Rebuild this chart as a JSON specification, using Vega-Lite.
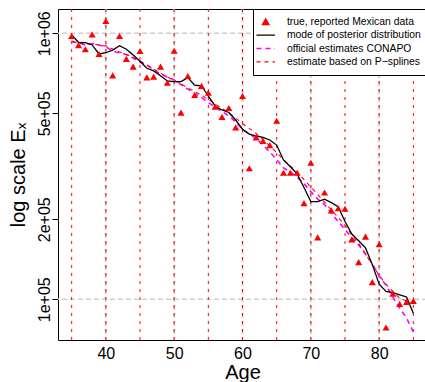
{
  "$schema": "https://vega.github.io/schema/vega-lite/v6.json",
  "width": 369,
  "height": 331,
  "autosize": {"type": "none"},
  "padding": {"left": 58, "top": 9, "right": 0, "bottom": 42},
  "background": "white",
  "config": {
    "view": {"stroke": "black", "strokeWidth": 1},
    "font": "Liberation Sans",
    "axis": {"labelColor": "black", "titleColor": "black", "tickColor": "black", "labelFont": "Liberation Sans", "titleFont": "Liberation Sans", "titleFontWeight": "normal"}
  },
  "datasets": {
    "greyV": [{"age": 40}, {"age": 50}, {"age": 60}, {"age": 70}, {"age": 80}],
    "redV": [{"age": 35}, {"age": 40}, {"age": 45}, {"age": 50}, {"age": 55}, {"age": 60}, {"age": 65}, {"age": 70}, {"age": 75}, {"age": 80}, {"age": 85}],
    "greyH": [{"value": 100000}, {"value": 1000000}],
    "main": [
      {"series": "true, reported Mexican data", "age": 35, "value": 977000},
      {"series": "true, reported Mexican data", "age": 36, "value": 903000},
      {"series": "true, reported Mexican data", "age": 37, "value": 871000},
      {"series": "true, reported Mexican data", "age": 38, "value": 991000},
      {"series": "true, reported Mexican data", "age": 39, "value": 836000},
      {"series": "true, reported Mexican data", "age": 40, "value": 1112000},
      {"series": "true, reported Mexican data", "age": 41, "value": 695000},
      {"series": "true, reported Mexican data", "age": 42, "value": 977000},
      {"series": "true, reported Mexican data", "age": 43, "value": 801000},
      {"series": "true, reported Mexican data", "age": 44, "value": 749000},
      {"series": "true, reported Mexican data", "age": 45, "value": 858000},
      {"series": "true, reported Mexican data", "age": 46, "value": 683000},
      {"series": "true, reported Mexican data", "age": 47, "value": 687000},
      {"series": "true, reported Mexican data", "age": 48, "value": 749000},
      {"series": "true, reported Mexican data", "age": 49, "value": 652000},
      {"series": "true, reported Mexican data", "age": 50, "value": 860000},
      {"series": "true, reported Mexican data", "age": 51, "value": 503000},
      {"series": "true, reported Mexican data", "age": 52, "value": 691000},
      {"series": "true, reported Mexican data", "age": 53, "value": 586000},
      {"series": "true, reported Mexican data", "age": 54, "value": 634000},
      {"series": "true, reported Mexican data", "age": 55, "value": 598000},
      {"series": "true, reported Mexican data", "age": 56, "value": 530000},
      {"series": "true, reported Mexican data", "age": 57, "value": 485000},
      {"series": "true, reported Mexican data", "age": 58, "value": 524000},
      {"series": "true, reported Mexican data", "age": 59, "value": 443000},
      {"series": "true, reported Mexican data", "age": 60, "value": 581000},
      {"series": "true, reported Mexican data", "age": 61, "value": 311000},
      {"series": "true, reported Mexican data", "age": 62, "value": 406000},
      {"series": "true, reported Mexican data", "age": 63, "value": 394000},
      {"series": "true, reported Mexican data", "age": 64, "value": 380000},
      {"series": "true, reported Mexican data", "age": 65, "value": 469000},
      {"series": "true, reported Mexican data", "age": 66, "value": 299000},
      {"series": "true, reported Mexican data", "age": 67, "value": 299000},
      {"series": "true, reported Mexican data", "age": 68, "value": 299000},
      {"series": "true, reported Mexican data", "age": 69, "value": 230000},
      {"series": "true, reported Mexican data", "age": 70, "value": 326000},
      {"series": "true, reported Mexican data", "age": 71, "value": 171000},
      {"series": "true, reported Mexican data", "age": 72, "value": 252000},
      {"series": "true, reported Mexican data", "age": 73, "value": 216000},
      {"series": "true, reported Mexican data", "age": 74, "value": 220000},
      {"series": "true, reported Mexican data", "age": 75, "value": 219000},
      {"series": "true, reported Mexican data", "age": 76, "value": 168000},
      {"series": "true, reported Mexican data", "age": 77, "value": 138000},
      {"series": "true, reported Mexican data", "age": 78, "value": 172000},
      {"series": "true, reported Mexican data", "age": 79, "value": 116000},
      {"series": "true, reported Mexican data", "age": 80, "value": 161000},
      {"series": "true, reported Mexican data", "age": 81, "value": 78300},
      {"series": "true, reported Mexican data", "age": 82, "value": 105000},
      {"series": "true, reported Mexican data", "age": 83, "value": 96000},
      {"series": "true, reported Mexican data", "age": 84, "value": 97700},
      {"series": "true, reported Mexican data", "age": 85, "value": 98500},

      {"series": "mode of posterior distribution", "age": 35, "value": 985000},
      {"series": "mode of posterior distribution", "age": 36, "value": 925000},
      {"series": "mode of posterior distribution", "age": 37, "value": 922000},
      {"series": "mode of posterior distribution", "age": 38, "value": 904000},
      {"series": "mode of posterior distribution", "age": 39, "value": 836000},
      {"series": "mode of posterior distribution", "age": 40, "value": 845000},
      {"series": "mode of posterior distribution", "age": 41, "value": 865000},
      {"series": "mode of posterior distribution", "age": 42, "value": 898000},
      {"series": "mode of posterior distribution", "age": 43, "value": 871000},
      {"series": "mode of posterior distribution", "age": 44, "value": 829000},
      {"series": "mode of posterior distribution", "age": 45, "value": 785000},
      {"series": "mode of posterior distribution", "age": 46, "value": 739000},
      {"series": "mode of posterior distribution", "age": 47, "value": 722000},
      {"series": "mode of posterior distribution", "age": 48, "value": 693000},
      {"series": "mode of posterior distribution", "age": 49, "value": 662000},
      {"series": "mode of posterior distribution", "age": 50, "value": 658000},
      {"series": "mode of posterior distribution", "age": 51, "value": 658000},
      {"series": "mode of posterior distribution", "age": 52, "value": 681000},
      {"series": "mode of posterior distribution", "age": 53, "value": 638000},
      {"series": "mode of posterior distribution", "age": 54, "value": 635000},
      {"series": "mode of posterior distribution", "age": 55, "value": 581000},
      {"series": "mode of posterior distribution", "age": 56, "value": 533000},
      {"series": "mode of posterior distribution", "age": 57, "value": 515000},
      {"series": "mode of posterior distribution", "age": 58, "value": 504000},
      {"series": "mode of posterior distribution", "age": 59, "value": 472000},
      {"series": "mode of posterior distribution", "age": 60, "value": 436000},
      {"series": "mode of posterior distribution", "age": 61, "value": 418000},
      {"series": "mode of posterior distribution", "age": 62, "value": 411000},
      {"series": "mode of posterior distribution", "age": 63, "value": 406000},
      {"series": "mode of posterior distribution", "age": 64, "value": 397000},
      {"series": "mode of posterior distribution", "age": 65, "value": 380000},
      {"series": "mode of posterior distribution", "age": 66, "value": 334000},
      {"series": "mode of posterior distribution", "age": 67, "value": 315000},
      {"series": "mode of posterior distribution", "age": 68, "value": 296000},
      {"series": "mode of posterior distribution", "age": 69, "value": 263000},
      {"series": "mode of posterior distribution", "age": 70, "value": 233000},
      {"series": "mode of posterior distribution", "age": 71, "value": 233000},
      {"series": "mode of posterior distribution", "age": 72, "value": 238000},
      {"series": "mode of posterior distribution", "age": 73, "value": 231000},
      {"series": "mode of posterior distribution", "age": 74, "value": 223000},
      {"series": "mode of posterior distribution", "age": 75, "value": 196000},
      {"series": "mode of posterior distribution", "age": 76, "value": 176000},
      {"series": "mode of posterior distribution", "age": 77, "value": 166000},
      {"series": "mode of posterior distribution", "age": 78, "value": 156000},
      {"series": "mode of posterior distribution", "age": 79, "value": 135000},
      {"series": "mode of posterior distribution", "age": 80, "value": 114000},
      {"series": "mode of posterior distribution", "age": 81, "value": 107000},
      {"series": "mode of posterior distribution", "age": 82, "value": 106000},
      {"series": "mode of posterior distribution", "age": 83, "value": 104000},
      {"series": "mode of posterior distribution", "age": 84, "value": 102000},
      {"series": "mode of posterior distribution", "age": 85, "value": 88600},

      {"series": "official estimates CONAPO", "age": 35, "value": 930000},
      {"series": "official estimates CONAPO", "age": 36, "value": 919000},
      {"series": "official estimates CONAPO", "age": 37, "value": 904000},
      {"series": "official estimates CONAPO", "age": 38, "value": 915000},
      {"series": "official estimates CONAPO", "age": 39, "value": 904000},
      {"series": "official estimates CONAPO", "age": 40, "value": 890000},
      {"series": "official estimates CONAPO", "age": 41, "value": 858000},
      {"series": "official estimates CONAPO", "age": 42, "value": 843000},
      {"series": "official estimates CONAPO", "age": 43, "value": 832000},
      {"series": "official estimates CONAPO", "age": 44, "value": 807000},
      {"series": "official estimates CONAPO", "age": 45, "value": 780000},
      {"series": "official estimates CONAPO", "age": 46, "value": 760000},
      {"series": "official estimates CONAPO", "age": 47, "value": 728000},
      {"series": "official estimates CONAPO", "age": 48, "value": 703000},
      {"series": "official estimates CONAPO", "age": 49, "value": 685000},
      {"series": "official estimates CONAPO", "age": 50, "value": 667000},
      {"series": "official estimates CONAPO", "age": 51, "value": 642000},
      {"series": "official estimates CONAPO", "age": 52, "value": 617000},
      {"series": "official estimates CONAPO", "age": 53, "value": 594000},
      {"series": "official estimates CONAPO", "age": 54, "value": 574000},
      {"series": "official estimates CONAPO", "age": 55, "value": 549000},
      {"series": "official estimates CONAPO", "age": 56, "value": 528000},
      {"series": "official estimates CONAPO", "age": 57, "value": 508000},
      {"series": "official estimates CONAPO", "age": 58, "value": 489000},
      {"series": "official estimates CONAPO", "age": 59, "value": 464000},
      {"series": "official estimates CONAPO", "age": 60, "value": 435000},
      {"series": "official estimates CONAPO", "age": 61, "value": 418000},
      {"series": "official estimates CONAPO", "age": 62, "value": 402000},
      {"series": "official estimates CONAPO", "age": 63, "value": 380000},
      {"series": "official estimates CONAPO", "age": 64, "value": 358000},
      {"series": "official estimates CONAPO", "age": 65, "value": 335000},
      {"series": "official estimates CONAPO", "age": 66, "value": 312000},
      {"series": "official estimates CONAPO", "age": 67, "value": 301000},
      {"series": "official estimates CONAPO", "age": 68, "value": 288000},
      {"series": "official estimates CONAPO", "age": 69, "value": 272000},
      {"series": "official estimates CONAPO", "age": 70, "value": 254000},
      {"series": "official estimates CONAPO", "age": 71, "value": 238000},
      {"series": "official estimates CONAPO", "age": 72, "value": 227000},
      {"series": "official estimates CONAPO", "age": 73, "value": 211000},
      {"series": "official estimates CONAPO", "age": 74, "value": 196000},
      {"series": "official estimates CONAPO", "age": 75, "value": 183000},
      {"series": "official estimates CONAPO", "age": 76, "value": 170000},
      {"series": "official estimates CONAPO", "age": 77, "value": 160000},
      {"series": "official estimates CONAPO", "age": 78, "value": 148000},
      {"series": "official estimates CONAPO", "age": 79, "value": 136000},
      {"series": "official estimates CONAPO", "age": 80, "value": 122000},
      {"series": "official estimates CONAPO", "age": 81, "value": 113000},
      {"series": "official estimates CONAPO", "age": 82, "value": 102000},
      {"series": "official estimates CONAPO", "age": 83, "value": 92700},
      {"series": "official estimates CONAPO", "age": 84, "value": 85100},
      {"series": "official estimates CONAPO", "age": 85, "value": 75400},

      {"series": "estimate based on P−splines", "age": 35, "value": 935000},
      {"series": "estimate based on P−splines", "age": 36, "value": 921000},
      {"series": "estimate based on P−splines", "age": 37, "value": 912000},
      {"series": "estimate based on P−splines", "age": 38, "value": 912000},
      {"series": "estimate based on P−splines", "age": 39, "value": 904000},
      {"series": "estimate based on P−splines", "age": 40, "value": 896000},
      {"series": "estimate based on P−splines", "age": 41, "value": 873000},
      {"series": "estimate based on P−splines", "age": 42, "value": 851000},
      {"series": "estimate based on P−splines", "age": 43, "value": 832000},
      {"series": "estimate based on P−splines", "age": 44, "value": 811000},
      {"series": "estimate based on P−splines", "age": 45, "value": 787000},
      {"series": "estimate based on P−splines", "age": 46, "value": 760000},
      {"series": "estimate based on P−splines", "age": 47, "value": 734000},
      {"series": "estimate based on P−splines", "age": 48, "value": 709000},
      {"series": "estimate based on P−splines", "age": 49, "value": 685000},
      {"series": "estimate based on P−splines", "age": 50, "value": 665000},
      {"series": "estimate based on P−splines", "age": 51, "value": 645000},
      {"series": "estimate based on P−splines", "age": 52, "value": 623000},
      {"series": "estimate based on P−splines", "age": 53, "value": 604000},
      {"series": "estimate based on P−splines", "age": 54, "value": 586000},
      {"series": "estimate based on P−splines", "age": 55, "value": 564000},
      {"series": "estimate based on P−splines", "age": 56, "value": 542000},
      {"series": "estimate based on P−splines", "age": 57, "value": 522000},
      {"series": "estimate based on P−splines", "age": 58, "value": 502000},
      {"series": "estimate based on P−splines", "age": 59, "value": 480000},
      {"series": "estimate based on P−splines", "age": 60, "value": 458000},
      {"series": "estimate based on P−splines", "age": 61, "value": 439000},
      {"series": "estimate based on P−splines", "age": 62, "value": 420000},
      {"series": "estimate based on P−splines", "age": 63, "value": 399000},
      {"series": "estimate based on P−splines", "age": 64, "value": 377000},
      {"series": "estimate based on P−splines", "age": 65, "value": 356000},
      {"series": "estimate based on P−splines", "age": 66, "value": 335000},
      {"series": "estimate based on P−splines", "age": 67, "value": 317000},
      {"series": "estimate based on P−splines", "age": 68, "value": 300000},
      {"series": "estimate based on P−splines", "age": 69, "value": 282000},
      {"series": "estimate based on P−splines", "age": 70, "value": 264000},
      {"series": "estimate based on P−splines", "age": 71, "value": 248000},
      {"series": "estimate based on P−splines", "age": 72, "value": 232000},
      {"series": "estimate based on P−splines", "age": 73, "value": 217000},
      {"series": "estimate based on P−splines", "age": 74, "value": 203000},
      {"series": "estimate based on P−splines", "age": 75, "value": 190000},
      {"series": "estimate based on P−splines", "age": 76, "value": 174000},
      {"series": "estimate based on P−splines", "age": 77, "value": 162000},
      {"series": "estimate based on P−splines", "age": 78, "value": 148000},
      {"series": "estimate based on P−splines", "age": 79, "value": 135000},
      {"series": "estimate based on P−splines", "age": 80, "value": 123000},
      {"series": "estimate based on P−splines", "age": 81, "value": 114000},
      {"series": "estimate based on P−splines", "age": 82, "value": 107000},
      {"series": "estimate based on P−splines", "age": 83, "value": 101000},
      {"series": "estimate based on P−splines", "age": 84, "value": 98500},
      {"series": "estimate based on P−splines", "age": 85, "value": 96900}
    ]
  },
  "layer": [
    {
      "data": {"name": "greyV"},
      "mark": {"type": "rule", "color": "#cfcfcf", "strokeWidth": 2, "strokeDash": [5, 3]},
      "encoding": {"x": {"field": "age", "type": "quantitative"}}
    },
    {
      "data": {"name": "greyH"},
      "mark": {"type": "rule", "color": "#cfcfcf", "strokeWidth": 1.5, "strokeDash": [5, 3]},
      "encoding": {"y": {"field": "value", "type": "quantitative"}}
    },
    {
      "data": {"name": "redV"},
      "mark": {"type": "rule", "color": "#ff0000", "strokeWidth": 1, "strokeDash": [3, 5]},
      "encoding": {"x": {"field": "age", "type": "quantitative"}}
    },
    {
      "data": {"name": "main"},
      "encoding": {
        "x": {
          "field": "age", "type": "quantitative",
          "scale": {"domain": [33, 87], "nice": false, "zero": false},
          "axis": {
            "values": [40, 50, 60, 70, 80], "ticks": false, "domain": false, "grid": false,
            "labelFontSize": 16, "labelPadding": 5, "labelFlush": false,
            "title": "Age", "titleFontSize": 20, "titlePadding": 1
          }
        },
        "y": {
          "field": "value", "type": "quantitative",
          "scale": {"type": "log", "domain": [70300, 1234000], "nice": false, "zero": false},
          "axis": {
            "values": [100000, 200000, 500000, 1000000], "tickSize": 6, "domain": false, "grid": false,
            "labelAngle": 270, "labelAlign": "center", "labelBaseline": "alphabetic", "labelPadding": 3,
            "labelFontSize": 16,
            "labelExpr": "datum.value == 1000000 ? '1e+06' : datum.value == 500000 ? '5e+05' : datum.value == 200000 ? '2e+05' : '1e+05'",
            "title": "log scale  Eₓ", "titleFontSize": 20, "titlePadding": 8
          }
        },
        "color": {
          "field": "series", "type": "nominal",
          "scale": {
            "domain": ["true, reported Mexican data", "mode of posterior distribution", "official estimates CONAPO", "estimate based on P−splines"],
            "range": ["#ff0000", "#000000", "#ff00ff", "#ff0000"]
          },
          "legend": {
            "title": null, "orient": "none", "legendX": 195, "legendY": 0,
            "padding": 7.5, "rowPadding": 2.4, "symbolSize": 45,
            "labelFontSize": 10.4, "labelFont": "Liberation Sans", "labelColor": "black", "labelOffset": 16,
            "strokeColor": "black", "fillColor": "white",
            "encode": {
              "symbols": {
                "update": {
                  "shape": {"signal": "datum.value == 'true, reported Mexican data' ? 'triangle-up' : 'M-2.75,0L2.75,0'"},
                  "fill": {"signal": "datum.value == 'true, reported Mexican data' ? '#ff0000' : 'transparent'"},
                  "stroke": {"signal": "datum.value == 'true, reported Mexican data' ? 'transparent' : datum.value == 'mode of posterior distribution' ? '#000000' : datum.value == 'official estimates CONAPO' ? '#ff00ff' : '#ff0000'"},
                  "strokeDash": {"signal": "datum.value == 'official estimates CONAPO' ? [5, 4] : datum.value == 'estimate based on P−splines' ? [4, 4] : [1, 0]"},
                  "strokeWidth": {"signal": "datum.value == 'official estimates CONAPO' ? 1.6 : 1.2"},
                  "opacity": {"value": 1},
                  "fillOpacity": {"value": 1}
                }
              }
            }
          }
        }
      },
      "layer": [
        {
          "transform": [{"filter": "datum.series == 'official estimates CONAPO'"}],
          "mark": {"type": "line", "strokeWidth": 1.6, "strokeDash": [5, 4]}
        },
        {
          "transform": [{"filter": "datum.series == 'estimate based on P−splines'"}],
          "mark": {"type": "line", "strokeWidth": 1.1, "strokeDash": [4, 4]}
        },
        {
          "transform": [{"filter": "datum.series == 'mode of posterior distribution'"}],
          "mark": {"type": "line", "strokeWidth": 1.3}
        },
        {
          "transform": [{"filter": "datum.series == 'true, reported Mexican data'"}],
          "mark": {"type": "point", "shape": "triangle-up", "filled": true, "size": 50, "opacity": 1}
        }
      ]
    }
  ]
}
